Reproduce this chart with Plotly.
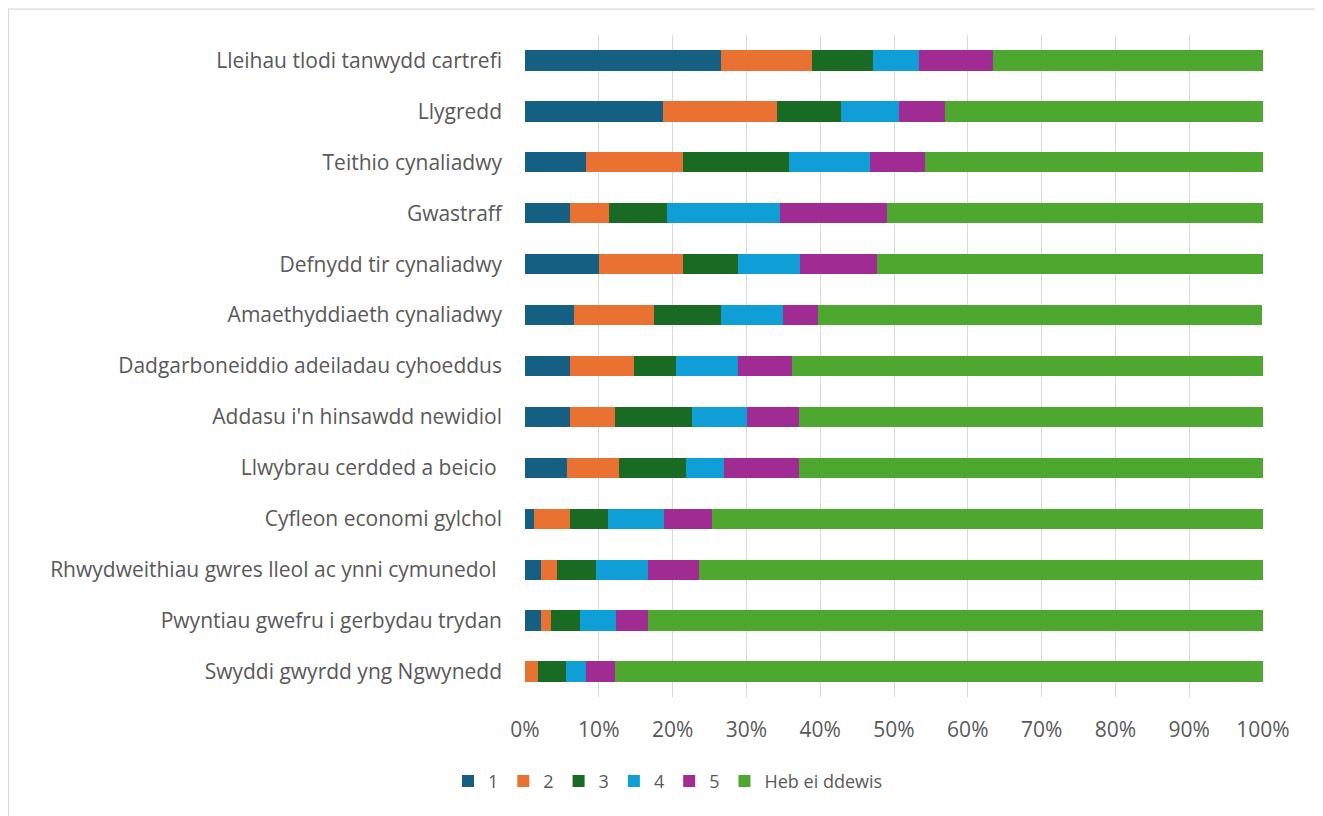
import plotly.graph_objects as go

categories = [
    "Lleihau tlodi tanwydd cartrefi",
    "Llygredd",
    "Teithio cynaliadwy",
    "Gwastraff",
    "Defnydd tir cynaliadwy",
    "Amaethyddiaeth cynaliadwy",
    "Dadgarboneiddio adeiladau cyhoeddus",
    "Addasu i'n hinsawdd newidiol",
    "Llwybrau cerdded a beicio\u00a0",
    "Cyfleon economi gylchol",
    "Rhwydweithiau gwres lleol ac ynni cymunedol\u00a0",
    "Pwyntiau gwefru i gerbydau trydan",
    "Swyddi gwyrdd yng Ngwynedd",
]

s1 = [26.6, 18.75, 8.3, 6.1, 10.0, 6.6, 6.1, 6.1, 5.65, 1.2, 2.2, 2.2, 0.0]
s2 = [12.3, 15.35, 13.1, 5.3, 11.4, 10.9, 8.7, 6.1, 7.05, 4.9, 2.2, 1.3, 1.7]
s3 = [8.3, 8.7, 14.4, 7.8, 7.5, 9.1, 5.7, 10.4, 9.1, 5.2, 5.2, 3.9, 3.9]
s4 = [6.2, 7.85, 11.0, 15.4, 8.3, 8.3, 8.3, 7.5, 5.2, 7.5, 7.0, 4.9, 2.7]
s5 = [10.0, 6.2, 7.4, 14.4, 10.5, 4.8, 7.4, 7.0, 10.1, 6.55, 7.0, 4.3, 3.9]
heb = [36.6, 43.2, 45.9, 51.1, 52.4, 60.2, 63.8, 62.9, 62.9, 74.65, 76.4, 83.4, 87.75]

series_names = ["1", "2", "3", "4", "5", "Heb ei ddewis"]
series_values = [s1, s2, s3, s4, s5, heb]
colors = ["#156082", "#E97132", "#196B24", "#0F9ED5", "#A02B93", "#4EA72E"]

x_ticks = [0, 10, 20, 30, 40, 50, 60, 70, 80, 90, 100]
x_ticklabels = [f"{v}%" for v in x_ticks]

fig = go.Figure()
for name, vals, col in zip(series_names, series_values, colors):
    fig.add_trace(go.Bar(
        y=categories, x=vals, name=name, orientation="h",
        marker=dict(color=col, line=dict(width=0)),
        width=0.4,
    ))

W, H = 1315, 808
L, R, T, B = 517, 60, 26.5, 118.5
pw = W - L - R
ph = H - T - B

fig.update_layout(
    barmode="stack",
    width=W, height=H,
    margin=dict(l=L, r=R, t=T, b=B),
    paper_bgcolor="white",
    plot_bgcolor="white",
    font=dict(family="Open Sans, Liberation Sans, sans-serif", size=21, color="#595959"),
    xaxis=dict(
        range=[0, 100], tickvals=x_ticks, ticktext=x_ticklabels,
        showgrid=True, gridcolor="#D9D9D9", gridwidth=1.3,
        zeroline=False, showline=False, ticks="",
        tickfont=dict(size=21, color="#595959"),
        ticklabelstandoff=18,
    ),
    yaxis=dict(
        categoryorder="array", categoryarray=categories[::-1],
        showgrid=False, ticks="", showline=False,
        tickfont=dict(size=21, color="#595959"),
        ticklabelstandoff=22,
    ),
    legend=dict(
        orientation="h", x=(660 - L) / pw, xanchor="center",
        y=(T + ph - 774) / ph, yanchor="middle",
        font=dict(size=18, color="#595959"),
        itemwidth=30, traceorder="normal",
    ),
    showlegend=True,
)

fig.add_shape(
    type="rect", xref="paper", yref="paper",
    x0=(0.5 - L) / pw, x1=(1313 - L) / pw,
    y0=(T + ph - 815) / ph, y1=(T + ph - 0.5) / ph,
    line=dict(color="#D9D9D9", width=1.3), fillcolor="rgba(0,0,0,0)",
    layer="below",
)

fig.write_html("out.html")
